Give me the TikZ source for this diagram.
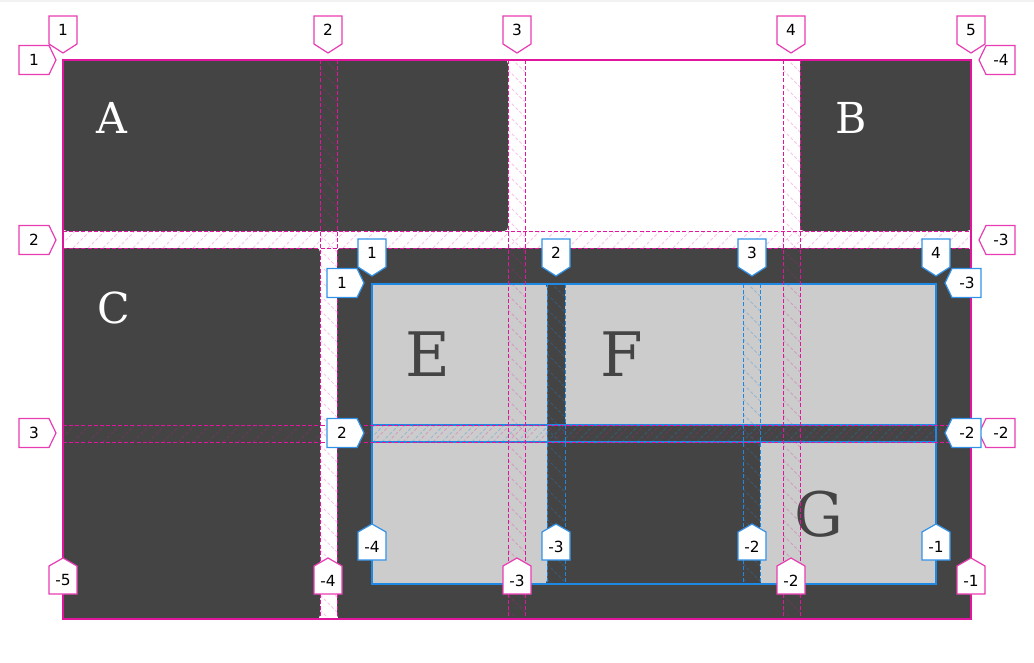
\documentclass[tikz,border=0pt]{standalone}
\usepackage{fontspec}
\setmainfont{DejaVu Serif}
\newfontfamily\lblfont{DejaVu Sans}
\newfontfamily\letfont{DejaVu Serif}
\definecolor{pk}{RGB}{224,22,158}
\definecolor{pkb}{RGB}{232,60,178}
\definecolor{bl}{RGB}{30,136,229}
\definecolor{blb}{RGB}{50,146,232}
\definecolor{dk}{HTML}{444444}
\definecolor{lt}{HTML}{CCCCCC}
\tikzset{
  darkitem/.style={fill=dk,rounded corners=3pt},
  lightitem/.style={fill=lt,rounded corners=3pt},
  bigA/.style={text=white,anchor=base west,inner sep=0pt,font=\letfont\fontsize{32}{32}\selectfont},
  bigE/.style={text=dk,anchor=base west,inner sep=0pt,font=\letfont\fontsize{46}{46}\selectfont},
  lbl/.style={inner sep=0pt,font=\lblfont\fontsize{11.5}{12}\selectfont,text=black},
  pkbadge/.style={draw=pkb,fill=white,line width=0.9pt,line join=miter},
  blbadge/.style={draw=blb,fill=white,line width=0.9pt,line join=miter},
  pkhatch/.style={draw=pk,opacity=0.25,line width=0.6pt,dash pattern=on 2.5pt off 1.5pt},
  blhatch/.style={draw=bl,opacity=0.3,line width=0.6pt,dash pattern=on 2.5pt off 1.5pt},
  pkline/.style={draw=pk,line width=1pt},
  pkdash/.style={draw=pk,line width=0.75pt,dash pattern=on 3pt off 1.6pt},
  blline/.style={draw=bl,line width=0.8pt},
  bldash/.style={draw=bl,line width=0.75pt,dash pattern=on 3pt off 1.6pt},
}
% badges: name, style, x, y, text
\newcommand\tagD[5]{%
  \draw[#2] ({#3-14},{#4-37}) -- ({#3+14},{#4-37}) -- ({#3+14},{#4-9}) -- (#3,#4) -- ({#3-14},{#4-9}) -- cycle;
  \node[lbl] (#1) at (#3,{#4-23}) {#5};}
\newcommand\tagU[5]{%
  \draw[#2] (#3,#4) -- ({#3+14},{#4+8}) -- ({#3+14},{#4+36}) -- ({#3-14},{#4+36}) -- ({#3-14},{#4+8}) -- cycle;
  \node[lbl] (#1) at (#3,{#4+22.5}) {#5};}
\newcommand\tagR[5]{%
  \draw[#2] (#3,#4) -- ({#3-7},{#4-14.5}) -- ({#3-37},{#4-14.5}) -- ({#3-37},{#4+14.5}) -- ({#3-7},{#4+14.5}) -- cycle;
  \node[lbl] (#1) at ({#3-22},#4) {#5};}
\newcommand\tagL[5]{%
  \draw[#2] (#3,#4) -- ({#3+7},{#4-14.5}) -- ({#3+36},{#4-14.5}) -- ({#3+36},{#4+14.5}) -- ({#3+7},{#4+14.5}) -- cycle;
  \node[lbl] (#1) at ({#3+22},#4) {#5};}
% hatches: style, x0, x1, y0, y1, count
\newcommand\hatchV[6]{%
  \begin{scope}
    \clip (#2,#4) rectangle (#3,#5);
    \foreach \k [evaluate=\k as \yy using #4-20+15*\k] in {0,...,#6}
      \draw[#1] (#2,\yy) -- ++({#3-#2},{#3-#2});
  \end{scope}}
\newcommand\hatchH[6]{%
  \begin{scope}
    \clip (#2,#4) rectangle (#3,#5);
    \foreach \k [evaluate=\k as \xx using #2-20+15*\k] in {0,...,#6}
      \draw[#1] (\xx,#5) -- ++({#5-#4},{#4-#5});
  \end{scope}}
\begin{document}
\begin{tikzpicture}[x=0.75pt,y=-0.75pt]
\useasboundingbox (0,0) rectangle (1034,663);
\fill[black!5] (0,0) rectangle (1034,2);
% items
\fill[darkitem] (63,60) rectangle (508,231);
\fill[darkitem] (800,60) rectangle (971,231);
\fill[darkitem] (63,248) rectangle (320,619);
\fill[darkitem] (337,248) rectangle (971,619);
\fill[lightitem] (372,284) rectangle (547,584);
\fill[lightitem] (565,284) rectangle (936,425);
\fill[lightitem] (760,442) rectangle (936,584);
\node[bigA] (A) at (96,133) {A};
\node[bigA] (B) at (835,133) {B};
\node[bigA] (C) at (97,323) {C};
\node[bigE] (E) at (405,376) {E};
\node[bigE] (F) at (600,376) {F};
\node[bigE] (G) at (794,536) {G};
% hatching
\hatchV{blhatch}{547}{565}{284}{584}{23}
\hatchV{blhatch}{743}{760}{284}{584}{23}
\hatchH{blhatch}{372}{936}{425}{442}{40}
\hatchV{pkhatch}{320}{337}{60}{619}{40}
\hatchV{pkhatch}{508}{525}{60}{619}{40}
\hatchV{pkhatch}{783}{800}{60}{619}{40}
\hatchH{pkhatch}{63}{971}{231}{248}{63}
\hatchH{pkhatch}{63}{971}{425}{442}{63}
% inner grid lines
\draw[blline] (372,284) rectangle (936,584);
\foreach \x in {547,565,743,760} \draw[bldash] (\x,284) -- (\x,584);
\foreach \y in {425,442} \draw[blline] (372,\y) -- (936,\y);
% outer grid lines
\draw[pkline] (63,60) rectangle (971,619);
\foreach \x in {320,337,508,525,783,800} \draw[pkdash] (\x,60) -- (\x,619);
\foreach \y in {231,248,425,442} \draw[pkdash] (63,\y) -- (971,\y);
% outer badges
\tagD{pt1}{pkbadge}{63}{53}{1}
\tagD{pt2}{pkbadge}{328}{53}{2}
\tagD{pt3}{pkbadge}{517}{53}{3}
\tagD{pt4}{pkbadge}{791}{53}{4}
\tagD{pt5}{pkbadge}{971}{53}{5}
\tagU{pb1}{pkbadge}{63}{558}{-5}
\tagU{pb2}{pkbadge}{328}{558}{-4}
\tagU{pb3}{pkbadge}{517}{558}{-3}
\tagU{pb4}{pkbadge}{791}{558}{-2}
\tagU{pb5}{pkbadge}{971}{558}{-1}
\tagR{pl1}{pkbadge}{56}{60}{1}
\tagR{pl2}{pkbadge}{56}{240}{2}
\tagR{pl3}{pkbadge}{56}{433}{3}
\tagL{pr1}{pkbadge}{979}{60}{-4}
\tagL{pr2}{pkbadge}{979}{240}{-3}
\tagL{pr3}{pkbadge}{979}{433}{-2}
% inner badges
\tagD{bt1}{blbadge}{372}{276}{1}
\tagD{bt2}{blbadge}{556}{276}{2}
\tagD{bt3}{blbadge}{752}{276}{3}
\tagD{bt4}{blbadge}{936}{276}{4}
\tagU{bb1}{blbadge}{372}{524}{-4}
\tagU{bb2}{blbadge}{556}{524}{-3}
\tagU{bb3}{blbadge}{752}{524}{-2}
\tagU{bb4}{blbadge}{936}{524}{-1}
\tagR{bl1}{blbadge}{364}{283}{1}
\tagR{bl2}{blbadge}{364}{433}{2}
\tagL{br1}{blbadge}{945}{283}{-3}
\tagL{br2}{blbadge}{945}{433}{-2}
\end{tikzpicture}
\end{document}
